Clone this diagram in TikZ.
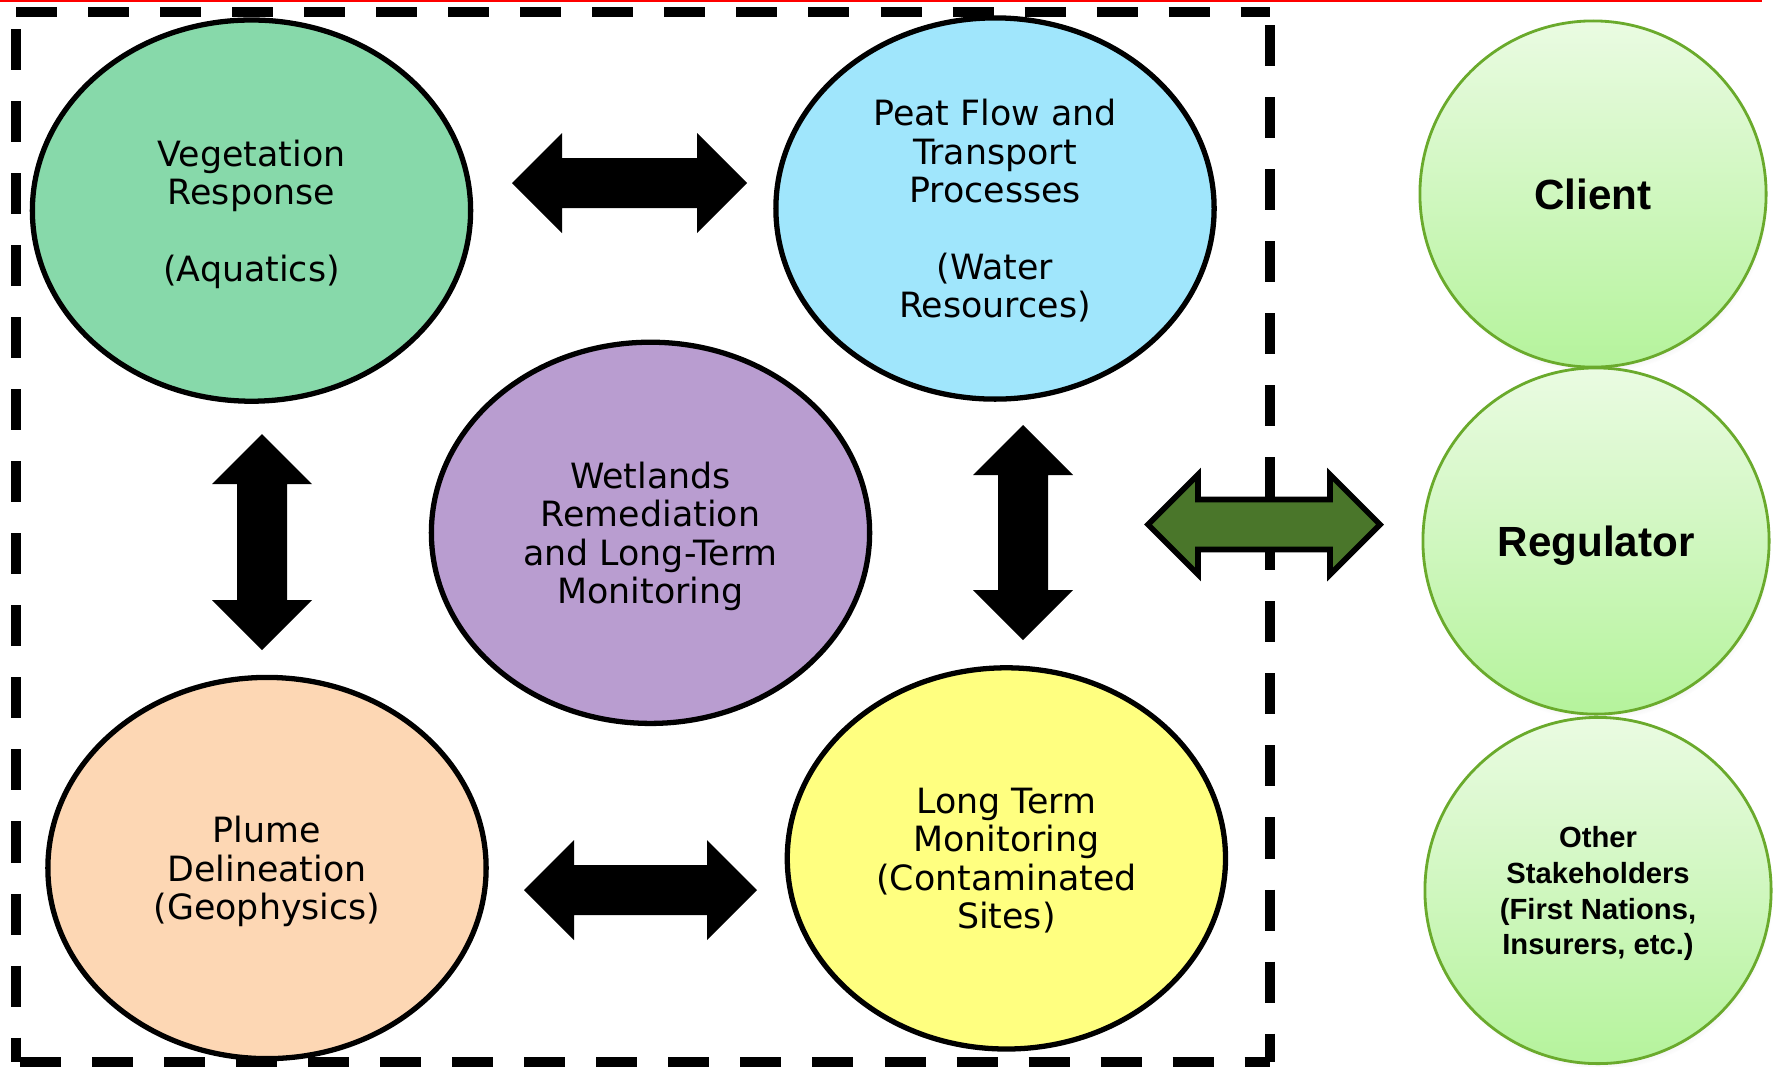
\documentclass[tikz,border=0pt]{standalone}
\usepackage{fontspec}
\setmainfont{DejaVu Sans}
\newfontfamily\partyfont{Liberation Sans}
\usetikzlibrary{shapes.geometric,shadows}

\definecolor{vegfill}{RGB}{135,217,170}
\definecolor{peatfill}{RGB}{160,230,252}
\definecolor{wetfill}{RGB}{185,157,208}
\definecolor{plumefill}{RGB}{253,215,180}
\definecolor{ltmfill}{RGB}{255,255,128}
\definecolor{partytop}{RGB}{234,251,226}
\definecolor{partybot}{RGB}{181,243,156}
\definecolor{partyline}{RGB}{106,170,44}
\definecolor{linkgreen}{RGB}{74,118,42}

\begin{document}
\begin{tikzpicture}[x=0.01cm, y=-0.01cm,
    area/.style={ellipse, draw, line width=1.5pt, fill=#1,
        minimum width=4.38cm, minimum height=3.81cm, inner sep=0pt,
        text depth=0pt, align=center, font=\fontsize{9.9}{10.9}\selectfont},
    party/.style={circle, draw=partyline, line width=0.8pt,
        top color=partytop, bottom color=partybot, minimum size=3.46cm,
        inner sep=0pt, text depth=0pt, align=center,
        circular drop shadow={shadow xshift=0.02cm, shadow yshift=-0.06cm,
            shadow scale=1.0, opacity=0.3}},
    frame/.style={line width=2.85pt, dash pattern=on 4.1mm off 3.1mm},
    pics/dblarrow/.style={code={
        \path[pic actions] (-#1,0) -- ++(50,-50) -- ++(0,25) -- (#1-50,-25)
            -- ++(0,-25) -- (#1,0) -- ++(-50,50) -- ++(0,-25)
            -- (-#1+50,25) -- ++(0,25) -- cycle;
    }}]

    \useasboundingbox (0,0) rectangle (1785,1066);

    \draw[red, line width=0.6pt] (0,1) -- (1762,1);

    % dashed frame round the technical team
    \draw[frame] (16,12) -- (1270,12);
    \draw[frame] (16,29) -- (16,1062);
    \draw[frame] (1270,25) -- (1270,1062);
    \draw[frame] (20,1062) -- (1270,1062);

    \node[area=vegfill] (veg) at (251.5,210.6)
        {Vegetation\\Response\\[10.9pt](Aquatics)};
    \node[area=peatfill] (peat) at (995,208.5)
        {Peat Flow and\\Transport\\Processes\\[10.9pt](Water\\Resources)};
    \node[area=wetfill] (wet) at (650.5,532.8)
        {Wetlands\\Remediation\\and Long-Term\\Monitoring};
    \node[area=plumefill] (plume) at (267,868)
        {Plume\\Delineation\\(Geophysics)};
    \node[area=ltmfill] (ltm) at (1006.4,858.4)
        {Long Term\\Monitoring\\(Contaminated\\Sites)};

    \node[party, font=\partyfont\bfseries\fontsize{12}{14}\selectfont] (client) at (1593,194) {Client};
    \node[party, font=\partyfont\bfseries\fontsize{12}{14}\selectfont] (regulator) at (1596,541) {Regulator};
    \node[party, font=\partyfont\bfseries\fontsize{8.3}{10.2}\selectfont] (others) at (1598,890.5)
        {Other\\Stakeholders\\(First Nations,\\Insurers, etc.)};

    \pic[fill=black] at (629.5,183) {dblarrow=117.5};
    \pic[fill=black] at (640.5,890) {dblarrow=116.5};
    \pic[fill=black, rotate=90] at (262,542) {dblarrow=108};
    \pic[fill=black, rotate=90] at (1023,532.5) {dblarrow=107.5};

    \pic[fill=linkgreen, draw=black, line width=1.6pt] at (1264,524.5) {dblarrow=116};

\end{tikzpicture}
\end{document}
